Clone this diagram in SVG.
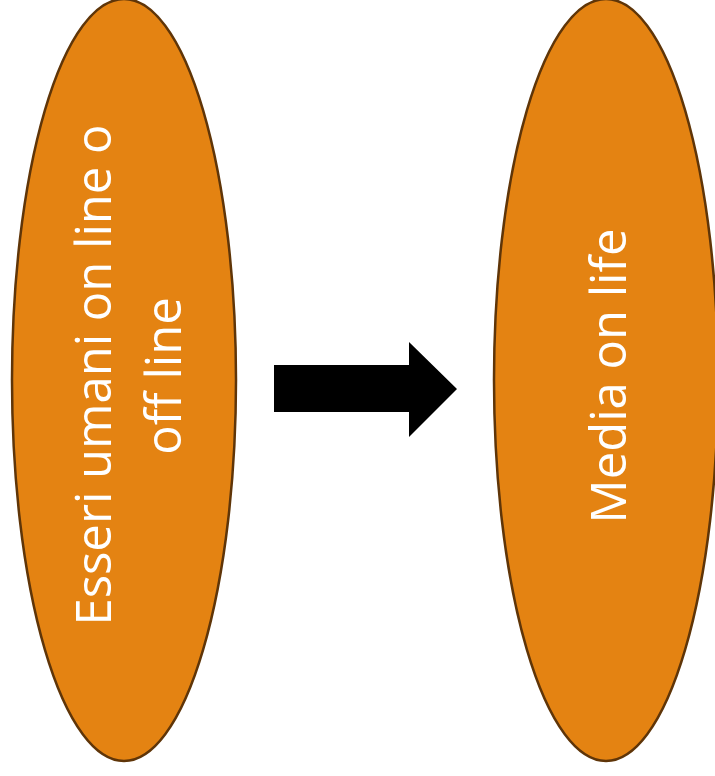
<svg xmlns="http://www.w3.org/2000/svg" width="715" height="776" viewBox="0 0 715 776">
<style>
.node{fill:#e48312;stroke:#5f3508;stroke-width:2.5}
.lbl{fill:#ffffff;font-family:"Open Sans","Noto Sans",sans-serif;font-size:49px;text-anchor:middle}
</style>
<rect width="715" height="776" fill="#ffffff"/>
<g id="node-left">
<ellipse class="node" cx="124" cy="380" rx="112" ry="381"/>
<text class="lbl" transform="translate(111,375) rotate(-90)">Esseri umani on line o</text>
<text class="lbl" transform="translate(181,376) rotate(-90)">off line</text>
</g>
<g id="node-right">
<ellipse class="node" cx="606" cy="380" rx="112" ry="381"/>
<text class="lbl" transform="translate(626,376) rotate(-90)">Media on life</text>
</g>
<g id="connectors">
<polygon points="274,365 409,365 409,342 457,389 409,437 409,412 274,412" fill="#000000"/>
</g>
</svg>
